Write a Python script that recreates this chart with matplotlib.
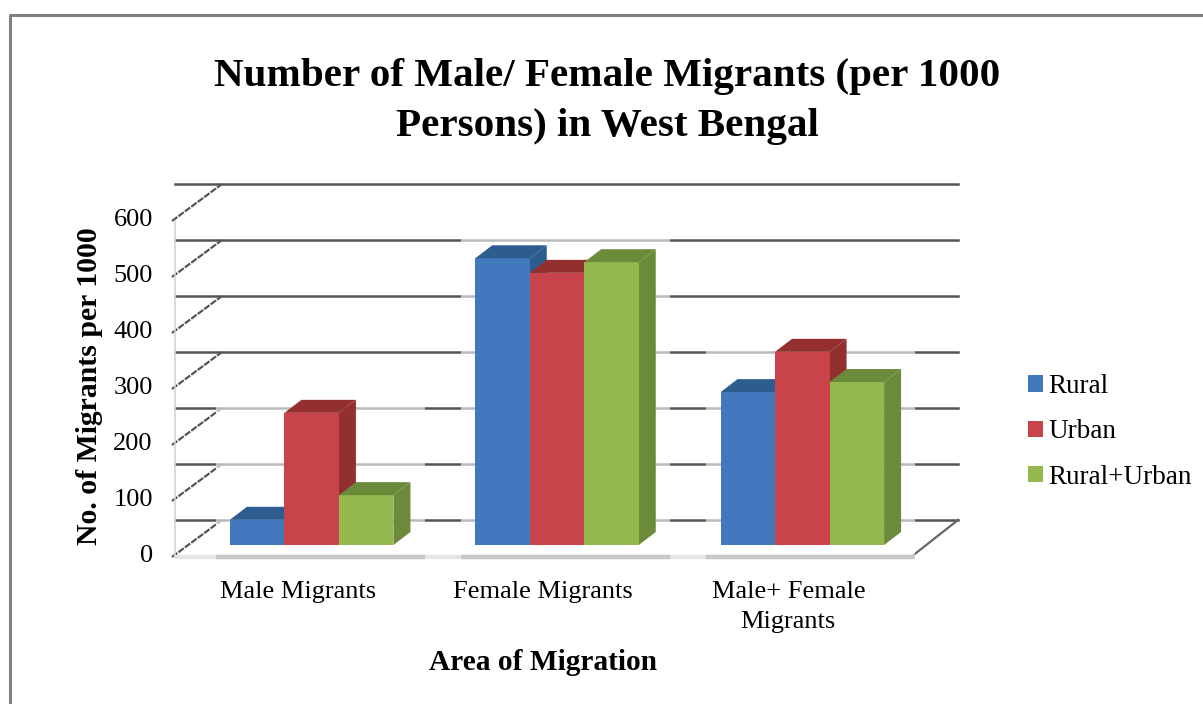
import matplotlib
matplotlib.use('Agg')
import matplotlib.pyplot as plt
from matplotlib.lines import Line2D
from matplotlib.patches import Polygon, Rectangle
from matplotlib.transforms import ScaledTranslation

plt.rcParams['font.family'] = ['Liberation Serif', 'DejaVu Serif']

categories = ['Male Migrants', 'Female Migrants', 'Male+ Female\nMigrants']
series_names = ['Rural', 'Urban', 'Rural+Urban']
rural = [45, 512, 273]
urban = [236, 486, 345]
rural_urban = [89, 505, 291]
y_ticks = [0, 100, 200, 300, 400, 500, 600]

front_colors = ['#4279BE', '#C9434A', '#93B94E']
dark_colors = ['#2D5C8F', '#93302F', '#6B8B3A']

W, H = 1203, 704
# front plane of the 3d box, in pixels
left, right, bottom, top = 175, 911, 557, 221

fig = plt.figure(figsize=(W / 100, H / 100), dpi=100)
ax = fig.add_axes([left / W, 1 - bottom / H, (right - left) / W, (bottom - top) / H])
ax.set_xlim(0, 3)
ax.set_ylim(0, 600)
ax.patch.set_alpha(0)
for s in ax.spines.values():
    s.set_visible(False)

px_x = 3 / (right - left)
px_y = 600 / (bottom - top)

# back wall is shifted from the front plane
wall_dx = 47 * px_x
wall_dy = 37 * px_y
for t in y_ticks:
    ax.plot([0, 3 + wall_dx], [t + wall_dy, t + wall_dy], color='#555555', lw=1.8,
            clip_on=False, zorder=1)
    ax.plot([-3 * px_x, wall_dx], [t, t + wall_dy], color='#555555', lw=1.6,
            ls=(0, (3, 0.6)), clip_on=False, zorder=1)
ax.plot([0, 0], [0, 600], color='#D4D4D4', lw=1.2, clip_on=False, zorder=1)
ax.plot([3, 3 + wall_dx], [0, wall_dy], color='#666666', lw=1.6, clip_on=False, zorder=1)

# floor edge
ax.plot([0, 3], [0, 0], color='#E4E4E4', lw=3, clip_on=False, zorder=1.5, solid_capstyle='butt')

bar_w = 54.5 * px_x
depth_x = 17 * px_x
depth_y = 13 * px_y
floor = 12 * px_y
centers = [0.5 + i + 14 * px_x for i in range(3)]
all_series = [rural, urban, rural_urban]

# pale halo round each group, the gridlines fade behind the bars
for i, c in enumerate(centers):
    tallest = max(s[i] for s in all_series)
    ax.add_patch(Rectangle((c - 96 * px_x, -2 * px_y), 209 * px_x, tallest + floor + 50,
                           facecolor='white', alpha=0.6, edgecolor='none', zorder=2,
                           clip_on=False))
    ax.plot([c - 96 * px_x, c + 113 * px_x], [0, 0], color='#C8C8C8', lw=3.2,
            solid_capstyle='butt', zorder=2.5, clip_on=False)

handles = []
z = 3
for k, vals in enumerate(all_series):
    xs = [c + (k - 1) * bar_w for c in centers]
    bars = ax.bar(xs, vals, width=bar_w, bottom=floor, color=front_colors[k],
                  label=series_names[k], zorder=z + 0.5)
    handles.append(bars)
    for x, v in zip(xs, vals):
        x0, x1 = x - bar_w / 2, x + bar_w / 2
        y0, y1 = floor, floor + v
        ax.add_patch(Polygon([(x1, y0), (x1 + depth_x, y0 + depth_y),
                              (x1 + depth_x, y1 + depth_y), (x1, y1)],
                             facecolor=dark_colors[k], edgecolor='none', zorder=z))
        ax.add_patch(Polygon([(x0, y1), (x0 + depth_x, y1 + depth_y),
                              (x1 + depth_x, y1 + depth_y), (x1, y1)],
                             facecolor=dark_colors[k], edgecolor='none', zorder=z + 0.6))
    z += 1

ax.set_xticks([0.5, 1.5, 2.5])
ax.set_xticklabels(categories, fontsize=19, linespacing=1.52)
ax.set_yticks(y_ticks)
ax.set_yticklabels([str(t) for t in y_ticks], fontsize=19)
ax.tick_params(axis='x', length=0, pad=17)
ax.tick_params(axis='y', length=0, pad=16)
up = ScaledTranslation(0, 3 / 100, fig.dpi_scale_trans)
for lab in ax.get_yticklabels():
    lab.set_transform(lab.get_transform() + up)

ax.set_xlabel('Area of Migration', fontsize=21.2, fontweight='bold')
ax.xaxis.set_label_coords((543 - left) / (right - left), -(662 - bottom) / (bottom - top))
ax.xaxis.label.set_va('center')
ax.set_ylabel('No. of Migrants per 1000', fontsize=21.4, fontweight='bold')
ax.yaxis.set_label_coords((90 - left) / (right - left), (bottom - 386) / (bottom - top))
ax.yaxis.label.set_va('center')

fig.text(607 / W, 1 - 101.5 / H, 'Number of Male/ Female Migrants (per 1000\nPersons) in West Bengal',
         ha='center', va='center', fontsize=29.6, fontweight='bold', linespacing=1.46)

fig.legend(handles=handles, labels=series_names, loc='center left',
           bbox_to_anchor=(1028 / W, 1 - 432 / H), frameon=False, fontsize=19.5,
           handlelength=0.55, handleheight=0.55, handletextpad=0.2, labelspacing=0.75,
           borderpad=0, borderaxespad=0)

# chart border, only the top and left edges are in the picture
fig.add_artist(Line2D([10 / W, 10 / W, 1], [0, 1 - 15 / H, 1 - 15 / H],
                      transform=fig.transFigure, color='#808080', lw=2.2))

fig.savefig('out.png', dpi=100)
